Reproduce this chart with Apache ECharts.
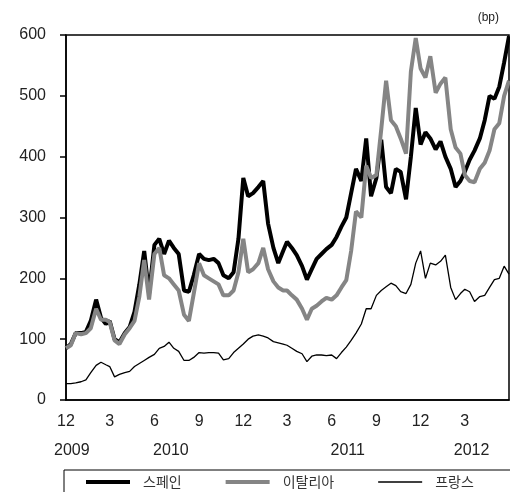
<!DOCTYPE html>
<html><head><meta charset="utf-8">
<script src="https://cdn.jsdelivr.net/npm/echarts@6/dist/echarts.min.js"></script>
<style>html,body{margin:0;padding:0;background:#fff}#c{width:510px;height:492px}</style>
</head><body><div id="c"></div>
<script>
// Sample dates: 1st, 11th, 21st of each month, Dec 2009 - May 2012
const dates = [];
for (let i = 0; i < 30; i++) {
  const y = 2009 + Math.floor((11 + i) / 12);
  const m = (11 + i) % 12 + 1;
  for (const d of [1, 11, 21]) dates.push(y + '-' + String(m).padStart(2, '0') + '-' + String(d).padStart(2, '0'));
}
dates.push('2012-05-31');

const seriesNames = ['스페인', '이탈리아', '프랑스'];

const spain = [85,92,110,110,112,130,165,135,125,130,100,95,110,120,145,190,245,175,255,265,240,262,250,240,180,178,205,240,232,230,232,225,205,200,210,265,365,335,340,350,360,290,250,225,245,260,250,238,220,198,215,232,240,248,255,268,285,300,340,380,360,430,335,365,428,350,340,380,375,330,400,480,420,440,430,412,425,400,380,350,360,375,395,410,430,460,500,495,515,555,598];

const italy = [85,90,110,108,110,118,150,132,132,128,98,92,108,118,130,170,230,165,240,250,205,200,190,180,140,130,175,225,205,200,195,190,172,172,180,210,265,210,215,225,250,215,195,185,180,180,172,165,150,132,150,155,162,168,165,172,185,197,245,310,300,385,365,370,445,525,460,450,430,405,540,595,545,530,565,505,520,530,445,415,405,370,360,358,380,390,410,445,455,500,525];

const france = [27,27,28,30,33,45,57,62,58,55,38,42,45,47,55,60,65,70,75,85,88,95,85,80,65,65,70,78,77,78,78,77,66,68,78,85,92,100,105,107,105,102,96,94,92,90,85,80,76,63,72,74,74,73,74,68,78,87,98,110,125,150,150,172,180,186,192,188,178,175,190,225,245,200,225,222,228,238,185,165,175,182,178,162,170,172,185,198,200,220,207];

const monthTicks = ['2009-12-01','2010-03-01','2010-06-01','2010-09-01','2010-12-01','2011-03-01','2011-06-01','2011-09-01','2011-12-01','2012-03-01'];
const monthLabels = ['12','3','6','9','12','3','6','9','12','3'];
const yearTicks = ['2009-12-13','2010-07-05','2011-07-04','2012-03-15'];
const yearLabels = ['2009','2010','2011','2012'];
const yTicks = [0, 100, 200, 300, 400, 500, 600];

const ts = s => { const p = s.split('-').map(Number); return Date.UTC(p[0], p[1] - 1, p[2]); };
const monthTs = monthTicks.map(ts);
const yearTs = yearTicks.map(ts);
const xMin = ts('2009-12-01'), xMax = ts('2012-05-31');
const FONT = "'Liberation Sans', 'Noto Sans CJK KR', sans-serif";
const KFONT = "'Noto Sans CJK KR', sans-serif";

const pair = arr => dates.map((d, i) => [ts(d), arr[i]]);
const lookup = (list, labels) => v => { let best = 0; for (let i = 1; i < list.length; i++) if (Math.abs(list[i] - v) < Math.abs(list[best] - v)) best = i; return labels[best]; };

const chart = echarts.init(document.getElementById('c'), null, {renderer: 'canvas'});
chart.setOption({
  animation: false,
  backgroundColor: '#fff',
  title: {text: '(bp)', right: 6, top: 7, textStyle: {fontSize: 12, fontWeight: 'normal', color: '#222', fontFamily: FONT}},
  grid: {left: 66, right: 1, top: 35, bottom: 92, show: true, borderColor: '#000', borderWidth: 1.5, backgroundColor: 'transparent'},
  xAxis: [{
    type: 'value', min: xMin, max: xMax,
    axisLine: {show: true, lineStyle: {color: '#000', width: 1.5}},
    axisTick: {show: false},
    splitLine: {show: false},
    axisLabel: {
      customValues: monthTs, margin: 14, fontSize: 16, color: '#222', fontFamily: FONT,
      formatter: lookup(monthTs, monthLabels)
    }
  }, {
    type: 'value', min: xMin, max: xMax, position: 'bottom', offset: 30,
    axisLine: {show: false}, axisTick: {show: false}, splitLine: {show: false},
    axisLabel: {
      customValues: yearTs, margin: 13, fontSize: 16, color: '#222', fontFamily: FONT,
      formatter: lookup(yearTs, yearLabels)
    }
  }],
  yAxis: {
    type: 'value', min: yTicks[0], max: yTicks[yTicks.length - 1], interval: 100,
    axisLine: {show: true, lineStyle: {color: '#000', width: 1.5}},
    axisTick: {show: true, length: 6, lineStyle: {color: '#000', width: 1.5}},
    splitLine: {show: false},
    axisLabel: {margin: 20, fontSize: 16, color: '#222', fontFamily: FONT}
  },
  legend: {
    left: 86, top: 475, itemWidth: 44, itemHeight: 14, itemGap: 44, padding: 0,
    symbolKeepAspect: true,
    data: [
      {name: seriesNames[0], icon: 'path://M0,0H44V4H0Z'},
      {name: seriesNames[1], icon: 'path://M0,0H44V4H0Z'},
      {name: seriesNames[2], icon: 'path://M0,0H44V1.4H0Z'}
    ],
    textStyle: {fontSize: 14, color: '#333', fontFamily: KFONT, padding: [0, 0, 0, 8]}
  },
  graphic: [{
    type: 'rect', shape: {x: 64, y: 470, width: 460, height: 40},
    style: {fill: 'none', stroke: '#000', lineWidth: 1}, silent: true
  }],
  series: [
    {name: seriesNames[0], type: 'line', data: pair(spain), symbol: 'none', lineStyle: {color: '#000', width: 4}, itemStyle: {color: '#000'}, z: 2},
    {name: seriesNames[1], type: 'line', data: pair(italy), symbol: 'none', lineStyle: {color: '#858585', width: 4}, itemStyle: {color: '#858585'}, z: 3},
    {name: seriesNames[2], type: 'line', data: pair(france), symbol: 'none', lineStyle: {color: '#000', width: 1.3}, itemStyle: {color: '#000'}, z: 4}
  ]
});
</script>
</body></html>
